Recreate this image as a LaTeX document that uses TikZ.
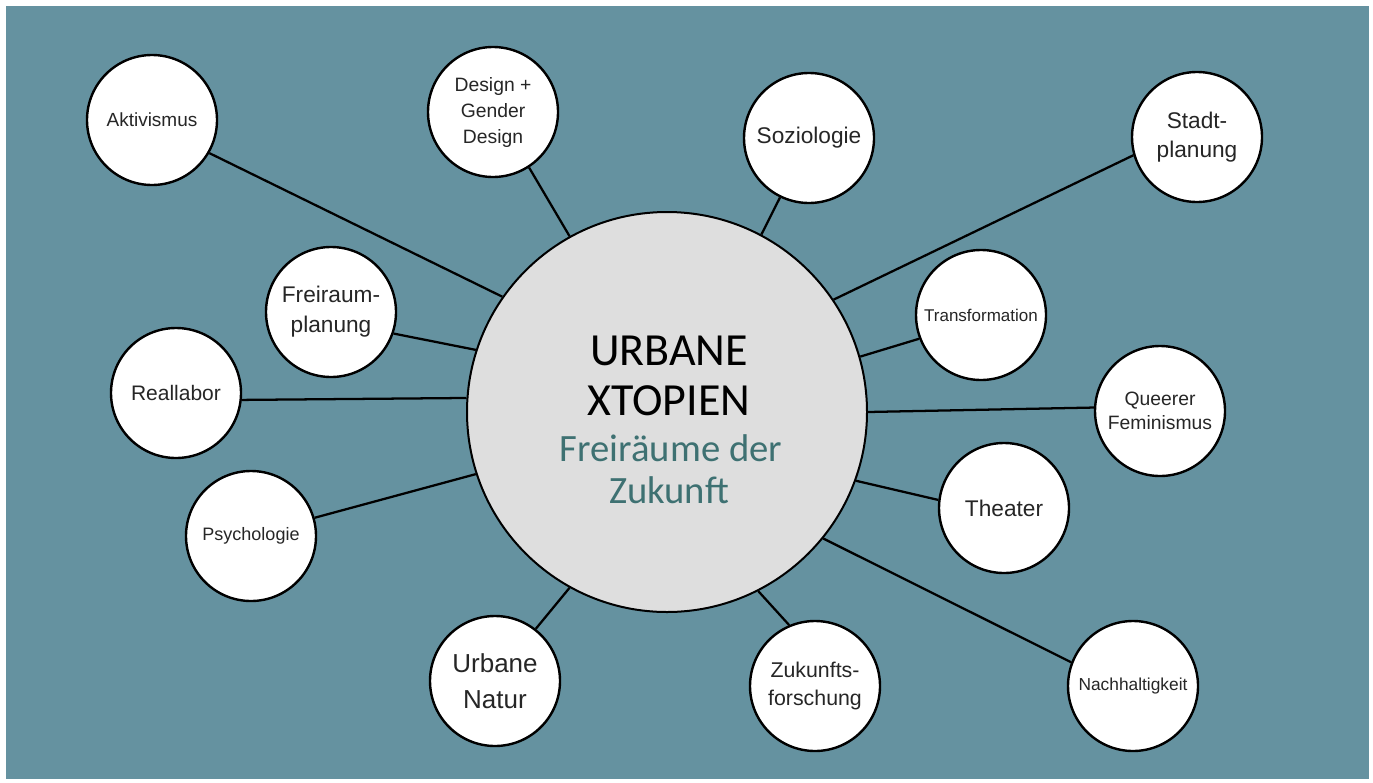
\documentclass[tikz,border=0pt]{standalone}
\usepackage{fontspec}
\setmainfont{Liberation Sans}
\newfontfamily\calfont{Carlito}
\definecolor{bgteal}{HTML}{6592A0}
\definecolor{centerfill}{HTML}{DEDEDE}
\definecolor{subteal}{HTML}{3E7172}
\newcommand{\fs}[2]{\fontsize{#1}{#2}\selectfont}
\tikzset{
  bub/.style={circle, draw=black, line width=1.8pt, fill=white, minimum size=97.5pt, inner sep=0pt, align=center, text=black!85},
  hub/.style={circle, draw=black, line width=1.5pt, fill=centerfill, minimum size=300pt, inner sep=0pt},
  link/.style={draw=black, line width=1.7pt},
  maintxt/.style={anchor=base, font=\calfont\fs{34.5}{37.5}, text=black, inner sep=0pt},
  subtxt/.style={anchor=base, font=\calfont\fs{29}{31}, text=subteal, inner sep=0pt}
}
\begin{document}
\begin{tikzpicture}[x=0.75pt, y=-0.75pt]
\useasboundingbox (0,0) rectangle (1373,782);
\fill[white] (0,0) rectangle (1373,782);
\fill[bgteal] (6,6) rectangle (1369,779);

% hub
\node[hub] (C) at (667,412) {};

% bubbles
\node[bub, font=\fs{14.25}{18}] (A) at (152,120) {Aktivismus};
\node[bub, font=\fs{14.5}{19.5}] (D) at (493,112) {Design +\\Gender\\Design};
\node[bub, font=\fs{17}{21}] (S) at (809,138) {Soziologie};
\node[bub, font=\fs{17}{22}] (P) at (1197,137) {Stadt-\\planung};
\node[bub, font=\fs{17}{22.5}] (F) at (331,312) {Freiraum-\\planung};
\node[bub, font=\fs{12.75}{15}] (T) at (981,315) {Transformation};
\node[bub, font=\fs{15.75}{19}] (R) at (176,393) {Reallabor};
\node[bub, font=\fs{14.5}{18.5}] (Q) at (1160,411) {Queerer\\Feminismus};
\node[bub, font=\fs{13.5}{16}] (Y) at (251,536) {Psychologie};
\node[bub, font=\fs{17}{21}] (H) at (1004,508) {Theater};
\node[bub, font=\fs{19.5}{27}] (U) at (495,681) {Urbane\\Natur};
\node[bub, font=\fs{16}{20.5}] (Z) at (815,686) {Zukunfts-\\forschung};
\node[bub, font=\fs{13}{16}] (N) at (1133,686) {Nachhaltigkeit};

% connectors
\path[link] (A.-30.3) -- (C.145);
\path[link] (D.-57) -- (C.119);
\path[link] (S.-116) -- (C.62.5);
\path[link] (P.-164.5) -- (C.34.7);
\path[link] (F.-19.5) -- (C.162.5);
\path[link] (T.-159.3) -- (C.16.3);
\path[link] (R.-6) -- (C.176.6);
\path[link] (Q.177.4) -- (C.0.6);
\path[link] (Y.16.3) -- (C.198.3);
\path[link] (H.173) -- (C.-20.1);
\path[link] (U.52.4) -- (C.-119.6);
\path[link] (Z.113.3) -- (C.-63.6);
\path[link] (N.159.1) -- (C.-39.5);

% hub text
\node[maintxt] (t1) at (669,365) {URBANE};
\node[maintxt] (t2) at (669,415) {XTOPIEN};
\node[subtxt] (t3) at (671,461) {Freiräume der};
\node[subtxt] (t4) at (669,503) {Zukunft};
\end{tikzpicture}
\end{document}
